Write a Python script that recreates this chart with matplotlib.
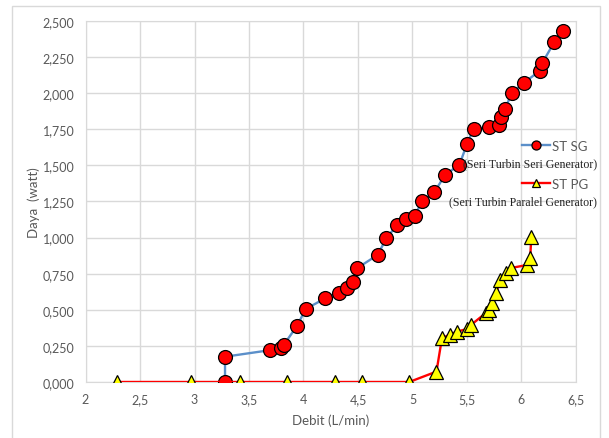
import numpy as np
import matplotlib
matplotlib.use("Agg")
import matplotlib.pyplot as plt
import matplotlib.ticker as mtk
from matplotlib.patches import Rectangle

# data
sg_debit = [3.28, 3.28, 3.69, 3.79, 3.82, 3.94, 4.02, 4.20, 4.33, 4.40, 4.45, 4.49,
            4.68, 4.76, 4.86, 4.94, 5.02, 5.09, 5.20, 5.30, 5.43, 5.50, 5.56, 5.70,
            5.79, 5.81, 5.85, 5.91, 6.02, 6.17, 6.19, 6.30, 6.38]
sg_daya = [0.000, 0.175, 0.220, 0.233, 0.258, 0.388, 0.505, 0.580, 0.614, 0.649, 0.695, 0.787,
           0.880, 0.995, 1.089, 1.129, 1.152, 1.253, 1.313, 1.436, 1.503, 1.648, 1.752, 1.764,
           1.780, 1.833, 1.891, 2.001, 2.071, 2.156, 2.209, 2.352, 2.431]

pg_debit = [2.29, 2.97, 3.42, 3.85, 4.29, 4.54, 4.97, 5.22, 5.27, 5.34, 5.41, 5.50,
            5.54, 5.67, 5.70, 5.73, 5.77, 5.80, 5.86, 5.90, 6.05, 6.08, 6.09]
pg_daya = [0.000, 0.000, 0.000, 0.000, 0.000, 0.000, 0.000, 0.072, 0.302, 0.328, 0.349, 0.367,
           0.397, 0.476, 0.499, 0.547, 0.614, 0.709, 0.755, 0.789, 0.810, 0.859, 1.006]

x_ticks = [2, 2.5, 3, 3.5, 4, 4.5, 5, 5.5, 6, 6.5]
y_ticks = [0, 0.25, 0.5, 0.75, 1.0, 1.25, 1.5, 1.75, 2.0, 2.25, 2.5]

grey_txt = "#595959"
grid_col = "#d9d9d9"
plt.rcParams['font.family'] = ['Lato', 'DejaVu Sans']

fig = plt.figure(figsize=(6.09, 4.39), dpi=100)
ax = fig.add_axes([0.1404, 0.1276, 0.8054, 0.8223])

# outer chart frame
fig.patches.append(Rectangle((0.019, -0.01), 0.966, 0.994, transform=fig.transFigure,
                             fill=False, edgecolor=grid_col, linewidth=1.0))

l_sg, = ax.plot(sg_debit, sg_daya, color="#5b8fc9", linewidth=1.7, marker="o", markersize=10,
                markerfacecolor="#ff0000", markeredgecolor="black", markeredgewidth=0.9,
                label="ST SG", zorder=3)
l_pg, = ax.plot(pg_debit, pg_daya, color="#ff0000", linewidth=1.7, marker="^", markersize=9.5,
                markerfacecolor="#ffff00", markeredgecolor="black", markeredgewidth=0.9,
                label="ST PG", zorder=4)

ax.set_xlim(2, 6.5)
ax.set_ylim(0, 2.5)
ax.set_xticks(x_ticks)
ax.set_yticks(y_ticks)

def x_fmt(x, pos=None):
    s = ("%g" % x).replace(".", ",")
    return s

def y_fmt(y, pos=None):
    return ("%.3f" % y).replace(".", ",")

ax.xaxis.set_major_formatter(mtk.FuncFormatter(x_fmt))
ax.yaxis.set_major_formatter(mtk.FuncFormatter(y_fmt))
ax.tick_params(length=0, labelsize=9, colors=grey_txt, pad=8)
ax.grid(True, color=grid_col, linewidth=1.0)
ax.set_axisbelow(True)
for sp in ax.spines.values():
    sp.set_color(grid_col)

ax.set_xlabel("Debit (L/min)", fontsize=9.5, color=grey_txt, labelpad=6)
ax.set_ylabel("Daya  (watt)", fontsize=9.5, color=grey_txt, labelpad=2)

# legend: one small legend per series, placed where the original has them
def put_legend(handle, label, ypix):
    lg = ax.legend([handle], [label], loc="center left",
                   bbox_to_anchor=(522 / 609, 1 - ypix / 439),
                   bbox_transform=fig.transFigure, frameon=False, fontsize=9.5,
                   handlelength=2.1, handletextpad=0.2, borderpad=0, borderaxespad=0,
                   markerscale=0.65)
    for t in lg.get_texts():
        t.set_color(grey_txt)
    return lg

leg1 = put_legend(l_sg, "ST SG", 147)
ax.add_artist(leg1)
leg2 = put_legend(l_pg, "ST PG", 185)

fig.text(0.981, 1 - 164 / 439, "(Seri Turbin Seri Generator)", ha="right", va="center",
         fontsize=8.6, family="Liberation Serif", color="#222222", zorder=10)
fig.text(0.981, 1 - 202 / 439, "(Seri Turbin Paralel Generator)", ha="right", va="center",
         fontsize=8.6, family="Liberation Serif", color="#222222", zorder=10)

plt.savefig("out.png", dpi=100)
